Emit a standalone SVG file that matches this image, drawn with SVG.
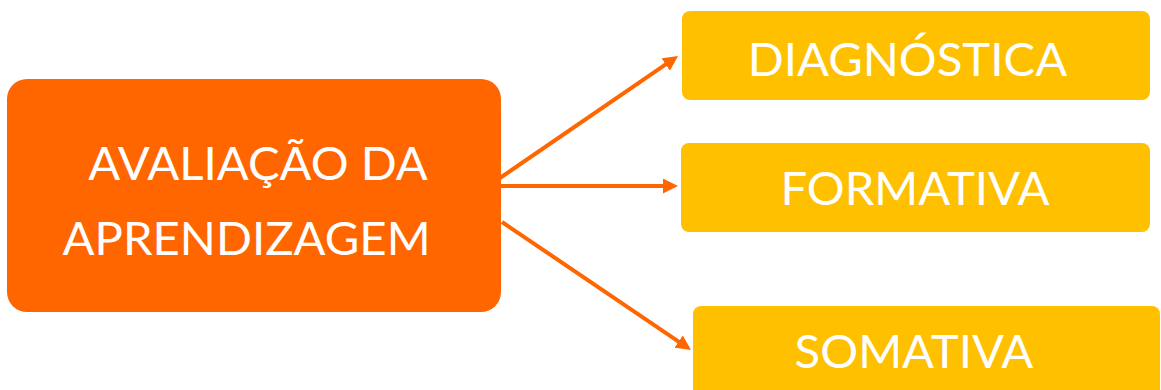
<svg xmlns="http://www.w3.org/2000/svg" width="1161" height="390" viewBox="0 0 1161 390">
<style>
.main{fill:#FF6600}
.sub{fill:#FFC000}
.t{font-family:Lato,"Open Sans","Liberation Sans",sans-serif;fill:#FFFFFF;font-size:47.3px;text-anchor:middle}
.c{stroke:#FF6600;stroke-width:4;fill:none}
</style>
<defs>
<marker id="ah" markerUnits="userSpaceOnUse" markerWidth="15" markerHeight="15" refX="4" refY="7.5" orient="auto">
<path d="M0,0 L15,7.5 L0,15 z" fill="#FF6600"/>
</marker>
</defs>
<g id="connectors">
<line class="c" x1="500" y1="178" x2="669" y2="62.2" marker-end="url(#ah)"/>
<line class="c" x1="500" y1="186" x2="667" y2="186" marker-end="url(#ah)"/>
<line class="c" x1="502" y1="222" x2="681.9" y2="343.8" marker-end="url(#ah)"/>
</g>
<g id="avaliacao">
<rect class="main" x="7" y="79" width="494" height="233" rx="20"/>
<text class="t" x="258" y="180">AVALIAÇÃO DA</text>
<text class="t" x="246.5" y="255">APRENDIZAGEM</text>
</g>
<g id="diagnostica">
<rect class="sub" x="682" y="11" width="468" height="89" rx="8"/>
<text class="t" x="907.5" y="76">DIAGNÓSTICA</text>
</g>
<g id="formativa">
<rect class="sub" x="681" y="143" width="469" height="89" rx="8"/>
<text class="t" x="915" y="205">FORMATIVA</text>
</g>
<g id="somativa">
<rect class="sub" x="693" y="306" width="467" height="94" rx="8"/>
<text class="t" x="914" y="368">SOMATIVA</text>
</g>
</svg>
